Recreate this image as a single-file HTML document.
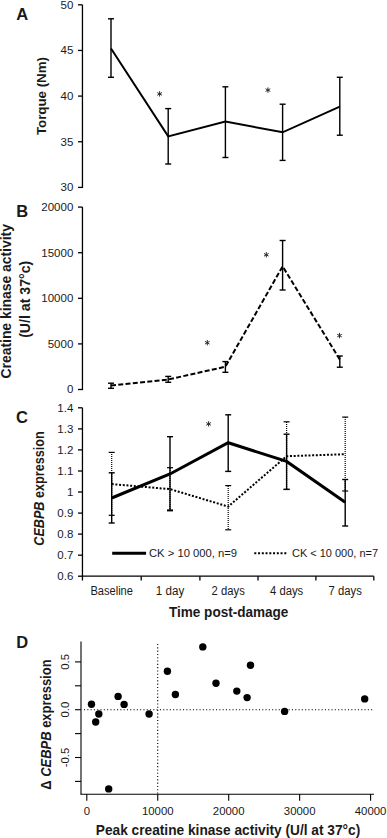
<!DOCTYPE html>
<html><head><meta charset="utf-8"><title>Figure</title>
<style>
html,body{margin:0;padding:0;background:#fff;}
svg{display:block;font-family:"Liberation Sans", sans-serif;}
</style></head>
<body>
<svg width="387" height="838" viewBox="0 0 387 838">
<rect width="387" height="838" fill="#fff"/>
<text x="22.3" y="19.6" font-size="16.5" font-weight="bold" text-anchor="middle" fill="#1a1a1a" >A</text>
<line x1="82.45" y1="4.8" x2="82.45" y2="188.0" stroke="#000" stroke-width="1.3" />
<line x1="78" y1="4.8" x2="82.45" y2="4.8" stroke="#000" stroke-width="1.3" />
<text x="73.3" y="8.75" font-size="11.5" font-weight="normal" text-anchor="end" fill="#1a1a1a" >50</text>
<line x1="78" y1="50.45" x2="82.45" y2="50.45" stroke="#000" stroke-width="1.3" />
<text x="73.3" y="54.400000000000006" font-size="11.5" font-weight="normal" text-anchor="end" fill="#1a1a1a" >45</text>
<line x1="78" y1="96.1" x2="82.45" y2="96.1" stroke="#000" stroke-width="1.3" />
<text x="73.3" y="100.05" font-size="11.5" font-weight="normal" text-anchor="end" fill="#1a1a1a" >40</text>
<line x1="78" y1="141.75" x2="82.45" y2="141.75" stroke="#000" stroke-width="1.3" />
<text x="73.3" y="145.7" font-size="11.5" font-weight="normal" text-anchor="end" fill="#1a1a1a" >35</text>
<line x1="78" y1="187.4" x2="82.45" y2="187.4" stroke="#000" stroke-width="1.3" />
<text x="73.3" y="191.35" font-size="11.5" font-weight="normal" text-anchor="end" fill="#1a1a1a" >30</text>
<text transform="translate(46,96.1) rotate(-90)" x="0" y="0" font-size="13.5" font-weight="bold" text-anchor="middle" fill="#1a1a1a" textLength="78" lengthAdjust="spacingAndGlyphs">Torque (Nm)</text>
<line x1="111" y1="18.8" x2="111" y2="77.3" stroke="#000" stroke-width="1.4" />
<line x1="108" y1="18.8" x2="114" y2="18.8" stroke="#000" stroke-width="1.4" />
<line x1="108" y1="77.3" x2="114" y2="77.3" stroke="#000" stroke-width="1.4" />
<line x1="168.2" y1="108.6" x2="168.2" y2="164.0" stroke="#000" stroke-width="1.4" />
<line x1="165.2" y1="108.6" x2="171.2" y2="108.6" stroke="#000" stroke-width="1.4" />
<line x1="165.2" y1="164.0" x2="171.2" y2="164.0" stroke="#000" stroke-width="1.4" />
<line x1="225.4" y1="86.8" x2="225.4" y2="157.5" stroke="#000" stroke-width="1.4" />
<line x1="222.4" y1="86.8" x2="228.4" y2="86.8" stroke="#000" stroke-width="1.4" />
<line x1="222.4" y1="157.5" x2="228.4" y2="157.5" stroke="#000" stroke-width="1.4" />
<line x1="282.6" y1="104.2" x2="282.6" y2="160.4" stroke="#000" stroke-width="1.4" />
<line x1="279.6" y1="104.2" x2="285.6" y2="104.2" stroke="#000" stroke-width="1.4" />
<line x1="279.6" y1="160.4" x2="285.6" y2="160.4" stroke="#000" stroke-width="1.4" />
<line x1="339.8" y1="77.3" x2="339.8" y2="135.2" stroke="#000" stroke-width="1.4" />
<line x1="336.8" y1="77.3" x2="342.8" y2="77.3" stroke="#000" stroke-width="1.4" />
<line x1="336.8" y1="135.2" x2="342.8" y2="135.2" stroke="#000" stroke-width="1.4" />
<polyline points="111,48.5 168.2,136.4 225.4,121.5 282.6,132.3 339.8,106.7" fill="none" stroke="#000" stroke-width="2" stroke-linejoin="miter"/>
<line x1="159.60" y1="91.20" x2="159.60" y2="96.60" stroke="#222" stroke-width="0.95"/>
<line x1="157.26" y1="92.55" x2="161.94" y2="95.25" stroke="#222" stroke-width="0.95"/>
<line x1="157.26" y1="95.25" x2="161.94" y2="92.55" stroke="#222" stroke-width="0.95"/>
<line x1="267.90" y1="87.40" x2="267.90" y2="92.80" stroke="#222" stroke-width="0.95"/>
<line x1="265.56" y1="88.75" x2="270.24" y2="91.45" stroke="#222" stroke-width="0.95"/>
<line x1="265.56" y1="91.45" x2="270.24" y2="88.75" stroke="#222" stroke-width="0.95"/>
<text x="22.2" y="216.7" font-size="16.5" font-weight="bold" text-anchor="middle" fill="#1a1a1a" >B</text>
<line x1="82.45" y1="207.1" x2="82.45" y2="390.1" stroke="#000" stroke-width="1.3" />
<line x1="78" y1="207.1" x2="82.45" y2="207.1" stroke="#000" stroke-width="1.3" />
<text x="73.3" y="211.04999999999998" font-size="11.5" font-weight="normal" text-anchor="end" fill="#1a1a1a" >20000</text>
<line x1="78" y1="252.7" x2="82.45" y2="252.7" stroke="#000" stroke-width="1.3" />
<text x="73.3" y="256.65" font-size="11.5" font-weight="normal" text-anchor="end" fill="#1a1a1a" >15000</text>
<line x1="78" y1="298.3" x2="82.45" y2="298.3" stroke="#000" stroke-width="1.3" />
<text x="73.3" y="302.25" font-size="11.5" font-weight="normal" text-anchor="end" fill="#1a1a1a" >10000</text>
<line x1="78" y1="343.9" x2="82.45" y2="343.9" stroke="#000" stroke-width="1.3" />
<text x="73.3" y="347.84999999999997" font-size="11.5" font-weight="normal" text-anchor="end" fill="#1a1a1a" >5000</text>
<line x1="78" y1="389.5" x2="82.45" y2="389.5" stroke="#000" stroke-width="1.3" />
<text x="73.3" y="393.45" font-size="11.5" font-weight="normal" text-anchor="end" fill="#1a1a1a" >0</text>
<text transform="translate(11.0,301.3) rotate(-90)" x="0" y="0" font-size="14" font-weight="bold" text-anchor="middle" fill="#1a1a1a" textLength="154.4" lengthAdjust="spacingAndGlyphs">Creatine kinase activity</text>
<text transform="translate(29.8,299.3) rotate(-90)" x="0" y="0" font-size="14" font-weight="bold" text-anchor="middle" fill="#1a1a1a" textLength="77.1" lengthAdjust="spacingAndGlyphs">(U/l at 37°c)</text>
<line x1="111" y1="383.2" x2="111" y2="388.3" stroke="#000" stroke-width="1.4" />
<line x1="108" y1="383.2" x2="114" y2="383.2" stroke="#000" stroke-width="1.4" />
<line x1="108" y1="388.3" x2="114" y2="388.3" stroke="#000" stroke-width="1.4" />
<line x1="168.2" y1="376.4" x2="168.2" y2="382.3" stroke="#000" stroke-width="1.4" />
<line x1="165.2" y1="376.4" x2="171.2" y2="376.4" stroke="#000" stroke-width="1.4" />
<line x1="165.2" y1="382.3" x2="171.2" y2="382.3" stroke="#000" stroke-width="1.4" />
<line x1="225.4" y1="361.6" x2="225.4" y2="372.3" stroke="#000" stroke-width="1.4" />
<line x1="222.4" y1="361.6" x2="228.4" y2="361.6" stroke="#000" stroke-width="1.4" />
<line x1="222.4" y1="372.3" x2="228.4" y2="372.3" stroke="#000" stroke-width="1.4" />
<line x1="282.6" y1="240.5" x2="282.6" y2="290.0" stroke="#000" stroke-width="1.4" />
<line x1="279.6" y1="240.5" x2="285.6" y2="240.5" stroke="#000" stroke-width="1.4" />
<line x1="279.6" y1="290.0" x2="285.6" y2="290.0" stroke="#000" stroke-width="1.4" />
<line x1="339.8" y1="356.0" x2="339.8" y2="367.2" stroke="#000" stroke-width="1.4" />
<line x1="336.8" y1="356.0" x2="342.8" y2="356.0" stroke="#000" stroke-width="1.4" />
<line x1="336.8" y1="367.2" x2="342.8" y2="367.2" stroke="#000" stroke-width="1.4" />
<polyline points="111,385.6 168.2,379.5 225.4,366.7 282.6,266.4 339.8,359.5" fill="none" stroke="#000" stroke-width="2" stroke-dasharray="5 2.3"/>
<line x1="207.30" y1="340.00" x2="207.30" y2="345.40" stroke="#222" stroke-width="0.95"/>
<line x1="204.96" y1="341.35" x2="209.64" y2="344.05" stroke="#222" stroke-width="0.95"/>
<line x1="204.96" y1="344.05" x2="209.64" y2="341.35" stroke="#222" stroke-width="0.95"/>
<line x1="266.30" y1="252.10" x2="266.30" y2="257.50" stroke="#222" stroke-width="0.95"/>
<line x1="263.96" y1="253.45" x2="268.64" y2="256.15" stroke="#222" stroke-width="0.95"/>
<line x1="263.96" y1="256.15" x2="268.64" y2="253.45" stroke="#222" stroke-width="0.95"/>
<line x1="339.50" y1="332.90" x2="339.50" y2="338.30" stroke="#222" stroke-width="0.95"/>
<line x1="337.16" y1="334.25" x2="341.84" y2="336.95" stroke="#222" stroke-width="0.95"/>
<line x1="337.16" y1="336.95" x2="341.84" y2="334.25" stroke="#222" stroke-width="0.95"/>
<text x="22.0" y="422.6" font-size="16.5" font-weight="bold" text-anchor="middle" fill="#1a1a1a" >C</text>
<line x1="82.45" y1="407.8" x2="82.45" y2="576.2" stroke="#000" stroke-width="1.3" />
<line x1="78" y1="407.8" x2="82.45" y2="407.8" stroke="#000" stroke-width="1.3" />
<text x="73.3" y="411.75" font-size="11.5" font-weight="normal" text-anchor="end" fill="#1a1a1a" >1.4</text>
<line x1="78" y1="428.9" x2="82.45" y2="428.9" stroke="#000" stroke-width="1.3" />
<text x="73.3" y="432.84999999999997" font-size="11.5" font-weight="normal" text-anchor="end" fill="#1a1a1a" >1.3</text>
<line x1="78" y1="449.9" x2="82.45" y2="449.9" stroke="#000" stroke-width="1.3" />
<text x="73.3" y="453.84999999999997" font-size="11.5" font-weight="normal" text-anchor="end" fill="#1a1a1a" >1.2</text>
<line x1="78" y1="471.0" x2="82.45" y2="471.0" stroke="#000" stroke-width="1.3" />
<text x="73.3" y="474.95" font-size="11.5" font-weight="normal" text-anchor="end" fill="#1a1a1a" >1.1</text>
<line x1="78" y1="492.0" x2="82.45" y2="492.0" stroke="#000" stroke-width="1.3" />
<text x="73.3" y="495.95" font-size="11.5" font-weight="normal" text-anchor="end" fill="#1a1a1a" >1</text>
<line x1="78" y1="513.1" x2="82.45" y2="513.1" stroke="#000" stroke-width="1.3" />
<text x="73.3" y="517.0500000000001" font-size="11.5" font-weight="normal" text-anchor="end" fill="#1a1a1a" >0.9</text>
<line x1="78" y1="534.1" x2="82.45" y2="534.1" stroke="#000" stroke-width="1.3" />
<text x="73.3" y="538.0500000000001" font-size="11.5" font-weight="normal" text-anchor="end" fill="#1a1a1a" >0.8</text>
<line x1="78" y1="555.2" x2="82.45" y2="555.2" stroke="#000" stroke-width="1.3" />
<text x="73.3" y="559.1500000000001" font-size="11.5" font-weight="normal" text-anchor="end" fill="#1a1a1a" >0.7</text>
<line x1="78" y1="576.2" x2="82.45" y2="576.2" stroke="#000" stroke-width="1.3" />
<text x="73.3" y="580.1500000000001" font-size="11.5" font-weight="normal" text-anchor="end" fill="#1a1a1a" >0.6</text>
<line x1="81.8" y1="576.2" x2="373.8" y2="576.2" stroke="#000" stroke-width="1.3" />
<line x1="82.45" y1="576.2" x2="82.45" y2="580.5" stroke="#000" stroke-width="1.3" />
<line x1="141.2" y1="576.2" x2="141.2" y2="580.5" stroke="#000" stroke-width="1.3" />
<line x1="199.9" y1="576.2" x2="199.9" y2="580.5" stroke="#000" stroke-width="1.3" />
<line x1="258.0" y1="576.2" x2="258.0" y2="580.5" stroke="#000" stroke-width="1.3" />
<line x1="315.9" y1="576.2" x2="315.9" y2="580.5" stroke="#000" stroke-width="1.3" />
<line x1="373.8" y1="576.2" x2="373.8" y2="580.5" stroke="#000" stroke-width="1.3" />
<text x="111.7" y="595.0" font-size="12" font-weight="normal" text-anchor="middle" fill="#1a1a1a" textLength="42.5" lengthAdjust="spacingAndGlyphs">Baseline</text>
<text x="170.0" y="595.0" font-size="12" font-weight="normal" text-anchor="middle" fill="#1a1a1a" textLength="28.4" lengthAdjust="spacingAndGlyphs">1 day</text>
<text x="228.2" y="595.0" font-size="12" font-weight="normal" text-anchor="middle" fill="#1a1a1a" textLength="33.2" lengthAdjust="spacingAndGlyphs">2 days</text>
<text x="286.6" y="595.0" font-size="12" font-weight="normal" text-anchor="middle" fill="#1a1a1a" textLength="33.2" lengthAdjust="spacingAndGlyphs">4 days</text>
<text x="345.2" y="595.0" font-size="12" font-weight="normal" text-anchor="middle" fill="#1a1a1a" textLength="33.2" lengthAdjust="spacingAndGlyphs">7 days</text>
<text x="228.7" y="616.8" font-size="14" font-weight="bold" text-anchor="middle" fill="#1a1a1a" textLength="119.4" lengthAdjust="spacingAndGlyphs">Time post-damage</text>
<text transform="translate(43.8,488.5) rotate(-90)" font-size="14.3" font-weight="bold" text-anchor="middle" fill="#1a1a1a" textLength="114.5" lengthAdjust="spacingAndGlyphs"><tspan font-style="italic">CEBPB</tspan> expression</text>
<line x1="111.7" y1="452" x2="111.7" y2="515" stroke="#000" stroke-width="1.2" stroke-dasharray="1 1"/>
<line x1="108.7" y1="452.4" x2="114.7" y2="452.4" stroke="#000" stroke-width="1.2" />
<line x1="108.7" y1="515.3" x2="114.7" y2="515.3" stroke="#000" stroke-width="1.2" />
<line x1="170.0" y1="468" x2="170.0" y2="510" stroke="#000" stroke-width="1.2" stroke-dasharray="1 1"/>
<line x1="167.0" y1="467.7" x2="173.0" y2="467.7" stroke="#000" stroke-width="1.2" />
<line x1="167.0" y1="510.0" x2="173.0" y2="510.0" stroke="#000" stroke-width="1.2" />
<line x1="228.2" y1="486" x2="228.2" y2="530" stroke="#000" stroke-width="1.2" stroke-dasharray="1 1"/>
<line x1="225.2" y1="485.6" x2="231.2" y2="485.6" stroke="#000" stroke-width="1.2" />
<line x1="225.2" y1="529.8" x2="231.2" y2="529.8" stroke="#000" stroke-width="1.2" />
<line x1="286.6" y1="422" x2="286.6" y2="489" stroke="#000" stroke-width="1.2" stroke-dasharray="1 1"/>
<line x1="283.6" y1="421.8" x2="289.6" y2="421.8" stroke="#000" stroke-width="1.2" />
<line x1="283.6" y1="489.4" x2="289.6" y2="489.4" stroke="#000" stroke-width="1.2" />
<line x1="345.2" y1="417" x2="345.2" y2="491" stroke="#000" stroke-width="1.2" stroke-dasharray="1 1"/>
<line x1="342.2" y1="417.1" x2="348.2" y2="417.1" stroke="#000" stroke-width="1.2" />
<line x1="342.2" y1="491.0" x2="348.2" y2="491.0" stroke="#000" stroke-width="1.2" />
<polyline points="111.7,484.1 170.0,489.1 228.2,506.6 286.6,456.2 345.2,454.2" fill="none" stroke="#000" stroke-width="2" stroke-dasharray="2 1.7"/>
<line x1="111.7" y1="472.8" x2="111.7" y2="523.0" stroke="#000" stroke-width="1.4" />
<line x1="108.7" y1="472.8" x2="114.7" y2="472.8" stroke="#000" stroke-width="1.4" />
<line x1="108.7" y1="523.0" x2="114.7" y2="523.0" stroke="#000" stroke-width="1.4" />
<line x1="170.0" y1="436.7" x2="170.0" y2="510.7" stroke="#000" stroke-width="1.4" />
<line x1="167.0" y1="436.7" x2="173.0" y2="436.7" stroke="#000" stroke-width="1.4" />
<line x1="167.0" y1="510.7" x2="173.0" y2="510.7" stroke="#000" stroke-width="1.4" />
<line x1="228.2" y1="414.8" x2="228.2" y2="471.4" stroke="#000" stroke-width="1.4" />
<line x1="225.2" y1="414.8" x2="231.2" y2="414.8" stroke="#000" stroke-width="1.4" />
<line x1="225.2" y1="471.4" x2="231.2" y2="471.4" stroke="#000" stroke-width="1.4" />
<line x1="286.6" y1="434.2" x2="286.6" y2="489.4" stroke="#000" stroke-width="1.4" />
<line x1="283.6" y1="434.2" x2="289.6" y2="434.2" stroke="#000" stroke-width="1.4" />
<line x1="283.6" y1="489.4" x2="289.6" y2="489.4" stroke="#000" stroke-width="1.4" />
<line x1="345.2" y1="479.5" x2="345.2" y2="526.0" stroke="#000" stroke-width="1.4" />
<line x1="342.2" y1="479.5" x2="348.2" y2="479.5" stroke="#000" stroke-width="1.4" />
<line x1="342.2" y1="526.0" x2="348.2" y2="526.0" stroke="#000" stroke-width="1.4" />
<polyline points="111.7,498.0 170.0,474.0 228.2,442.7 286.6,461.4 345.2,502.3" fill="none" stroke="#000" stroke-width="3"/>
<line x1="208.60" y1="421.20" x2="208.60" y2="426.60" stroke="#222" stroke-width="0.95"/>
<line x1="206.26" y1="422.55" x2="210.94" y2="425.25" stroke="#222" stroke-width="0.95"/>
<line x1="206.26" y1="425.25" x2="210.94" y2="422.55" stroke="#222" stroke-width="0.95"/>
<line x1="112.2" y1="553.2" x2="146.1" y2="553.2" stroke="#000" stroke-width="3" />
<text x="149" y="557.4" font-size="11.2" font-weight="normal" text-anchor="start" fill="#1a1a1a" textLength="88.1" lengthAdjust="spacingAndGlyphs">CK &gt; 10 000, n=9</text>
<line x1="254.3" y1="553.3" x2="287.5" y2="553.3" stroke="#000" stroke-width="2" stroke-dasharray="2 1.75"/>
<text x="292" y="557.4" font-size="11.2" font-weight="normal" text-anchor="start" fill="#1a1a1a" textLength="86" lengthAdjust="spacingAndGlyphs">CK &lt; 10 000, n=7</text>
<text x="22.2" y="647.7" font-size="16.5" font-weight="bold" text-anchor="middle" fill="#1a1a1a" >D</text>
<line x1="81" y1="641.6" x2="81" y2="794.2" stroke="#000" stroke-width="1.1" />
<line x1="80.45" y1="794.2" x2="373.9" y2="794.2" stroke="#000" stroke-width="1.1" />
<line x1="75" y1="661.9000000000001" x2="81" y2="661.9000000000001" stroke="#000" stroke-width="1.1" />
<line x1="75" y1="685.8000000000001" x2="81" y2="685.8000000000001" stroke="#000" stroke-width="1.1" />
<line x1="75" y1="709.7" x2="81" y2="709.7" stroke="#000" stroke-width="1.1" />
<line x1="75" y1="733.6" x2="81" y2="733.6" stroke="#000" stroke-width="1.1" />
<line x1="75" y1="757.5" x2="81" y2="757.5" stroke="#000" stroke-width="1.1" />
<line x1="75" y1="781.4000000000001" x2="81" y2="781.4000000000001" stroke="#000" stroke-width="1.1" />
<text transform="translate(68.7,661.9000000000001) rotate(-90)" font-size="11.4" text-anchor="middle" fill="#1a1a1a">0.5</text>
<text transform="translate(68.7,709.7) rotate(-90)" font-size="11.4" text-anchor="middle" fill="#1a1a1a">0.0</text>
<text transform="translate(68.7,757.5) rotate(-90)" font-size="11.4" text-anchor="middle" fill="#1a1a1a">-0.5</text>
<line x1="86.8" y1="794.2" x2="86.8" y2="800.8" stroke="#000" stroke-width="1.1" />
<text x="86.8" y="815.2" font-size="11.4" font-weight="normal" text-anchor="middle" fill="#1a1a1a" >0</text>
<line x1="157.75" y1="794.2" x2="157.75" y2="800.8" stroke="#000" stroke-width="1.1" />
<text x="157.75" y="815.2" font-size="11.4" font-weight="normal" text-anchor="middle" fill="#1a1a1a" >10000</text>
<line x1="228.7" y1="794.2" x2="228.7" y2="800.8" stroke="#000" stroke-width="1.1" />
<text x="228.7" y="815.2" font-size="11.4" font-weight="normal" text-anchor="middle" fill="#1a1a1a" >20000</text>
<line x1="299.65" y1="794.2" x2="299.65" y2="800.8" stroke="#000" stroke-width="1.1" />
<text x="299.65" y="815.2" font-size="11.4" font-weight="normal" text-anchor="middle" fill="#1a1a1a" >30000</text>
<line x1="370.6" y1="794.2" x2="370.6" y2="800.8" stroke="#000" stroke-width="1.1" />
<text x="370.6" y="815.2" font-size="11.4" font-weight="normal" text-anchor="middle" fill="#1a1a1a" >40000</text>
<text x="95.8" y="835.3" font-size="14" font-weight="bold" text-anchor="start" fill="#1a1a1a" textLength="264.4" lengthAdjust="spacingAndGlyphs">Peak creatine kinase activity (U/l at 37°c)</text>
<text transform="translate(50.6,724.6) rotate(-90)" font-size="14.3" font-weight="bold" text-anchor="middle" fill="#1a1a1a" textLength="130.3" lengthAdjust="spacingAndGlyphs">Δ <tspan font-style="italic">CEBPB</tspan> expression</text>
<line x1="84" y1="709.7" x2="373.9" y2="709.7" stroke="#000" stroke-width="1.1" stroke-dasharray="1.1 2.2"/>
<line x1="157.7" y1="644" x2="157.7" y2="794.2" stroke="#000" stroke-width="1.1" stroke-dasharray="1.1 2.2"/>
<circle cx="91.5" cy="704.2" r="3.7" fill="#000"/>
<circle cx="98.8" cy="714.0" r="3.7" fill="#000"/>
<circle cx="95.7" cy="722.0" r="3.7" fill="#000"/>
<circle cx="108.7" cy="788.9" r="3.7" fill="#000"/>
<circle cx="118.1" cy="696.4" r="3.7" fill="#000"/>
<circle cx="124.1" cy="704.4" r="3.7" fill="#000"/>
<circle cx="149.1" cy="714.0" r="3.7" fill="#000"/>
<circle cx="167.4" cy="671.2" r="3.7" fill="#000"/>
<circle cx="175.4" cy="694.5" r="3.7" fill="#000"/>
<circle cx="202.8" cy="646.9" r="3.7" fill="#000"/>
<circle cx="216.0" cy="683.3" r="3.7" fill="#000"/>
<circle cx="236.8" cy="691.1" r="3.7" fill="#000"/>
<circle cx="247.1" cy="697.6" r="3.7" fill="#000"/>
<circle cx="250.5" cy="665.3" r="3.7" fill="#000"/>
<circle cx="284.6" cy="711.4" r="3.7" fill="#000"/>
<circle cx="364.7" cy="698.9" r="3.7" fill="#000"/>
</svg>
</body></html>
